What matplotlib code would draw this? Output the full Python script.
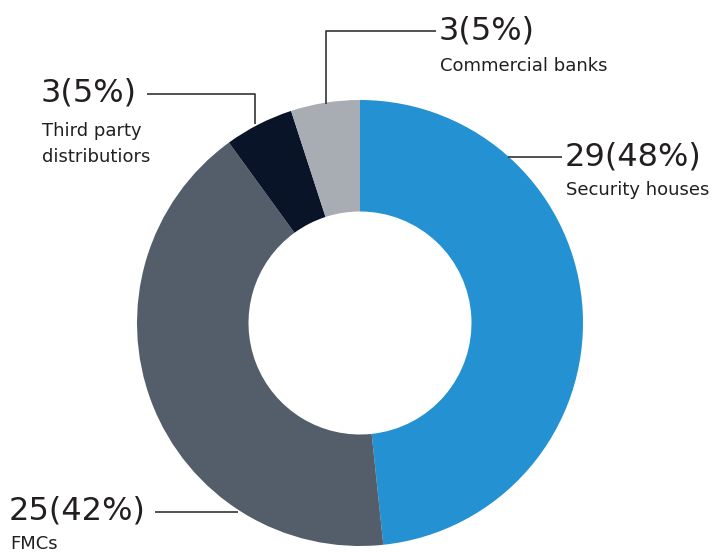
import matplotlib
matplotlib.use("Agg")
import matplotlib.pyplot as plt

# Distribution channels: count per channel
categories = ["Security houses", "FMCs", "Third party\ndistributiors", "Commercial banks"]
counts = [29, 25, 3, 3]
shares = ["48%", "42%", "5%", "5%"]
colors = ["#2391d2", "#545e6a", "#0a1428", "#a7adb3"]

W, H = 728, 552
fig = plt.figure(figsize=(W / 100, H / 100), dpi=100)
ax = fig.add_axes([0, 0, 1, 1])

cx, cy = 360, H - 323
R = 223
ax.pie(counts, colors=colors, startangle=90, counterclock=False,
       center=(cx, cy), radius=R, frame=True,
       wedgeprops=dict(width=R * 0.5, linewidth=0))
ax.set_xlim(0, W)
ax.set_ylim(0, H)
ax.set_aspect("equal")
ax.axis("off")

txt = "#231f20"
line_kw = dict(color="#333333", lw=1.2, solid_capstyle="butt")
big = dict(fontsize=23, color=txt, family="DejaVu Sans", va="center")
small = dict(fontsize=13, color=txt, family="DejaVu Sans", va="center", linespacing=1.5)

def y(p):
    return H - p

# Security houses
ax.plot([508, 562], [y(157), y(157)], **line_kw)
ax.text(565, y(157), f"{counts[0]}({shares[0]})", ha="left", **big)
ax.text(566, y(190), categories[0], ha="left", **small)

# Commercial banks
ax.plot([326, 326, 436], [y(104), y(31), y(31)], **line_kw)
ax.text(439, y(31), f"{counts[3]}({shares[3]})", ha="left", **big)
ax.text(440, y(66), categories[3], ha="left", **small)

# Third party distributors
ax.plot([147, 255, 255], [y(94), y(94), y(124)], **line_kw)
ax.text(41, y(93), f"{counts[2]}({shares[2]})", ha="left", **big)
ax.text(42, y(144), categories[2], ha="left", **small)

# FMCs
ax.plot([155, 238], [y(512), y(512)], **line_kw)
ax.text(9, y(511), f"{counts[1]}({shares[1]})", ha="left", **big)
ax.text(10, y(544), categories[1], ha="left", **small)

fig.savefig("out.png", dpi=100)
